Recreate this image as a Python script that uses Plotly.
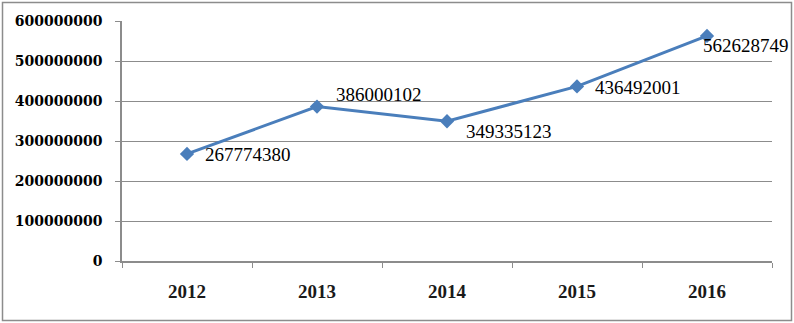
import plotly.graph_objects as go

years = ["2012", "2013", "2014", "2015", "2016"]
values = [267774380, 386000102, 349335123, 436492001, 562628749]
y_ticks = [0, 100000000, 200000000, 300000000, 400000000, 500000000, 600000000]
label_xshift = [16, 17, 17, 16, -6]
label_yshift = [-1, 12, -10, -1, -10]

W, H = 794, 323
ml, mr, mt, mb = 122, 22, 21, 62
pw, ph = W - ml - mr, H - mt - mb

def px_x(p):
    return (p - ml) / pw

def px_y(p):
    return (H - mb - p) / ph

line_color = "#4A7EBB"
grid_color = "#8C8C8C"

fig = go.Figure()
fig.add_trace(go.Scatter(
    x=years, y=values, mode="lines+markers",
    line=dict(color=line_color, width=3),
    marker=dict(symbol="diamond", size=11, color=line_color),
    showlegend=False, hoverinfo="skip",
))

annotations = []
for i, (yv, dx, dy) in enumerate(zip(values, label_xshift, label_yshift)):
    annotations.append(dict(
        xref="x", yref="y", x=i, y=yv, text=str(yv), showarrow=False,
        xanchor="left", yanchor="middle", xshift=dx, yshift=dy,
        font=dict(family="Liberation Serif", size=19, color="black"),
    ))

fig.update_layout(
    width=W, height=H,
    margin=dict(l=ml, r=mr, t=mt, b=mb),
    paper_bgcolor="white", plot_bgcolor="white",
    annotations=annotations,
    shapes=[dict(
        type="rect", xref="paper", yref="paper",
        x0=px_x(2.5), x1=px_x(791.5), y0=px_y(320.5), y1=px_y(2.5),
        line=dict(color="#8C8C8C", width=1.5),
    )],
    xaxis=dict(
        type="category", range=[-0.5, 4.5],
        tickson="boundaries", ticks="outside", ticklen=5, tickcolor=grid_color,
        showline=True, linecolor=grid_color, linewidth=1.5,
        showgrid=False, zeroline=False,
        tickfont=dict(family="Liberation Serif", size=19, color="#1a1a1a", weight="bold"),
        ticklabelstandoff=12,
    ),
    yaxis=dict(
        range=[0, 600000000], tickvals=y_ticks, ticktext=[str(v) for v in y_ticks],
        ticks="outside", ticklen=5, tickcolor=grid_color,
        showline=True, linecolor=grid_color, linewidth=1.5,
        showgrid=True, gridcolor=grid_color, gridwidth=1.2,
        zeroline=False,
        tickfont=dict(family="DejaVu Serif", size=14, color="#000000", weight="bold"),
        ticklabelstandoff=10,
    ),
)

fig.write_html(
    "out.html",
    config={"displayModeBar": False},
    post_script="document.body.style.margin='0';document.body.style.overflow='hidden';",
)
